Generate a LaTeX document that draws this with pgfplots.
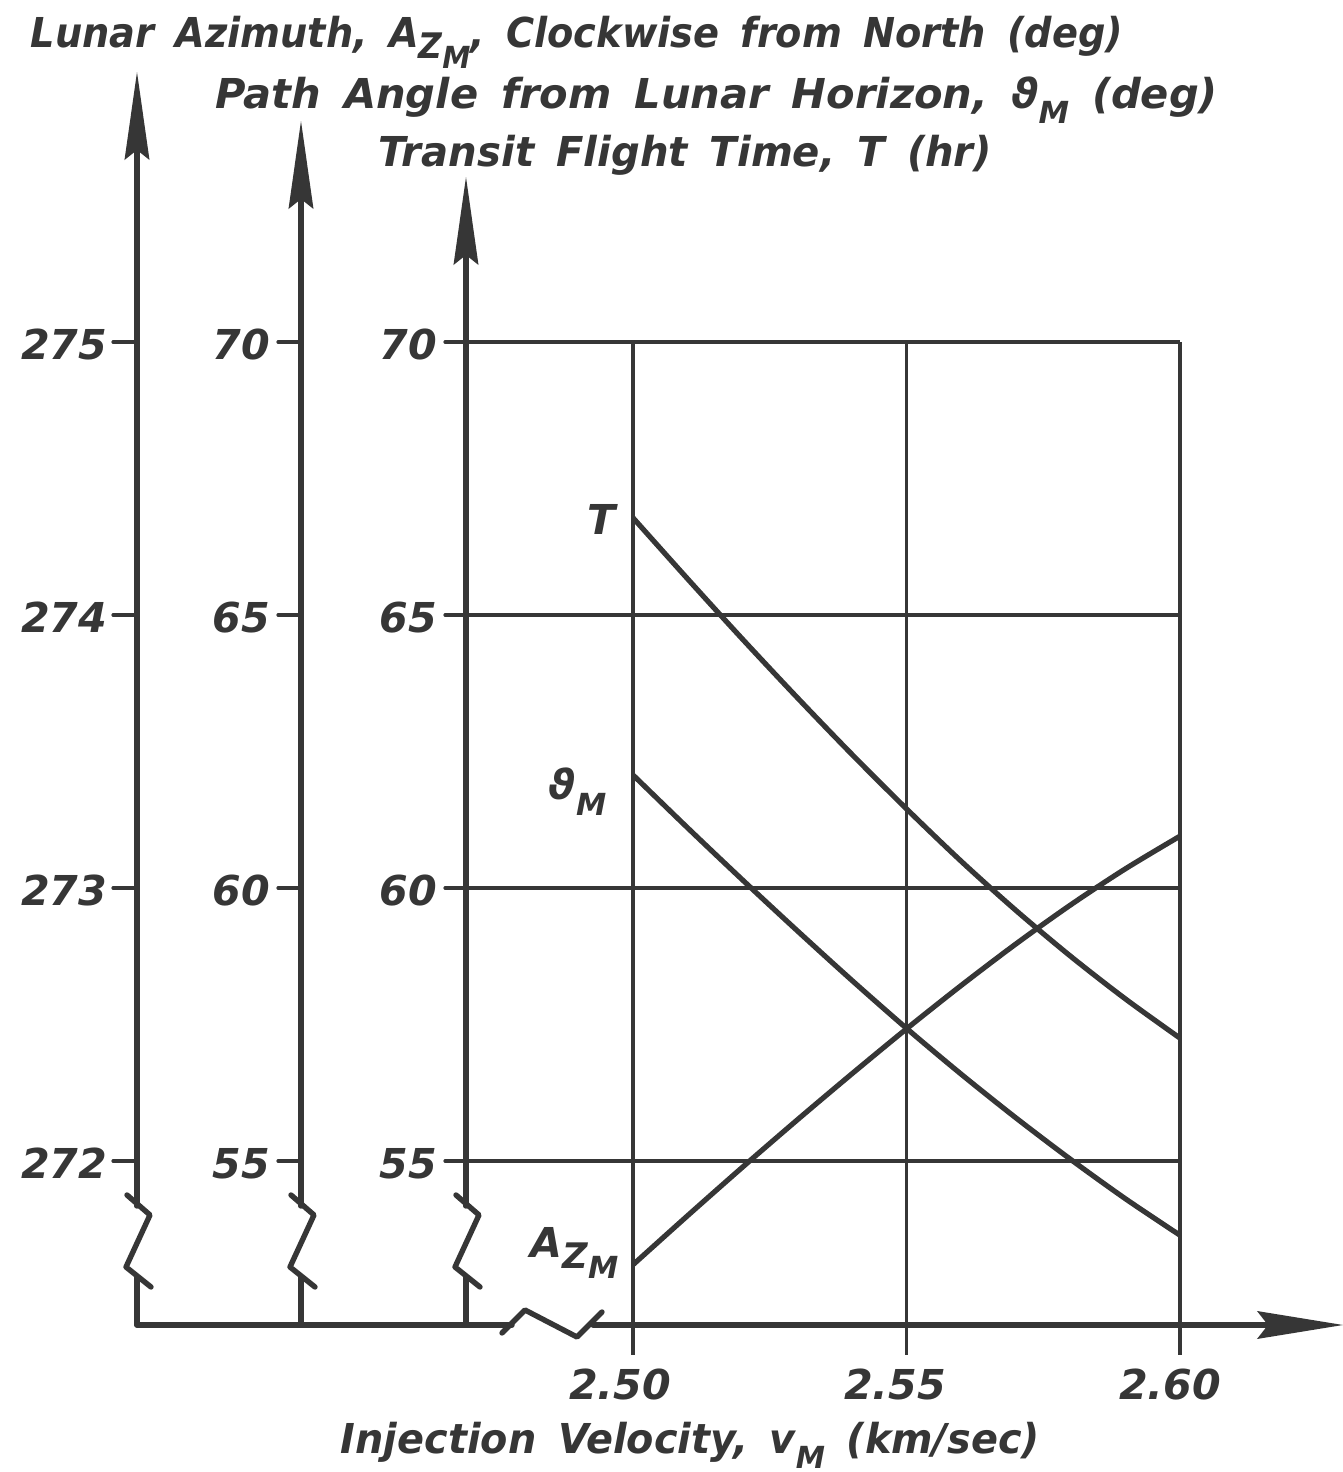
\documentclass[border=0pt]{standalone}
\usepackage{pgfplots}
\usepackage{pgfplotstable}
\pgfplotsset{compat=1.18}
\usepackage{fontspec}
\setmainfont{DejaVu Sans}
\definecolor{ink}{HTML}{363636}
\newcommand{\lf}{\fontsize{10.3}{12}\selectfont\bfseries\itshape}
\newcommand{\sub}[1]{\raisebox{-0.38em}{\fontsize{7.6}{8}\selectfont #1}}
\newcommand{\AZM}{A\raisebox{-0.25em}{\fontsize{8.8}{9}\selectfont Z\raisebox{-0.3em}{\fontsize{7.6}{8}\selectfont M}}}
\newcommand{\ws}{\hspace{0.55em}}

% Transit flight time T (hr) and path angle theta_M (deg) vs injection velocity (km/s)
\pgfplotstableread{
v     T      th
2.50  66.78  62.07
2.51  65.66  61.10
2.52  64.56  60.15
2.53  63.49  59.22
2.54  62.45  58.31
2.55  61.45  57.43
2.56  60.49  56.59
2.57  59.59  55.79
2.58  58.75  55.03
2.59  57.97  54.31
2.60  57.25  53.64
}\dataTT

% Lunar azimuth A_ZM (deg)
\pgfplotstableread{
v     Az
2.50  271.620
2.51  271.800
2.52  271.977
2.53  272.150
2.54  272.319
2.55  272.484
2.56  272.643
2.57  272.795
2.58  272.938
2.59  273.070
2.60  273.190
}\dataAz

\begin{document}
\begin{tikzpicture}
\pgfplotsset{geom/.style={at={(0,0)}, anchor=south west, scale only axis,
  width=335.75pt, height=368pt, xmin=2.384278, xmax=2.629799, hide axis, clip=false}}
\begin{axis}[geom, ymin=49.3040, ymax=76.2637]
  % grid
  \foreach \xx in {2.50,2.55,2.60}{
    \edef\tmp{\noexpand\draw[ink, line width=0.8pt] (axis cs:\xx,70) -- (axis cs:\xx,51.45);}\tmp
  }
  \foreach \yy in {55,60,65,70}{
    \edef\tmp{\noexpand\draw[ink, line width=0.8pt] (axis cs:2.46947,\yy) -- (axis cs:2.60,\yy);}\tmp
  }
  \addplot[ink, line width=1.3pt, smooth, no markers] table[x=v, y=T] {\dataTT};
  \addplot[ink, line width=1.3pt, smooth, no markers] table[x=v, y=th] {\dataTT};
\end{axis}
\begin{axis}[geom, ymin=270.8608, ymax=276.2527]
  \addplot[ink, line width=1.3pt, smooth, no markers] table[x=v, y=Az] {\dataAz};
\end{axis}

\begin{scope}[shift={(0,368pt)}, x=0.25pt, y=-0.25pt, line cap=round, line join=round]
  % vertical axes with arrowheads and breaks
  \foreach \X/\tip in {137/72, 301/121, 466/177}{
    \fill[ink] (\X,\tip) -- (\X+12.5,\tip+88) -- (\X,\tip+78) -- (\X-12.5,\tip+88) -- cycle;
    \draw[ink, line width=1.35pt] (\X,\tip+70) -- (\X,1206);
    \draw[ink, line width=1.35pt] (\X-10,1195) -- (\X+13,1215) -- (\X-11,1267) -- (\X+14,1287);
    \draw[ink, line width=1.35pt] (\X,1277) -- (\X,1325);
  }
  % horizontal axis with break and arrow
  \draw[ink, line width=1.35pt] (137,1325) -- (512,1325);
  \draw[ink, line width=1.35pt] (502,1333) -- (525,1310) -- (577,1337) -- (602,1312);
  \draw[ink, line width=1.35pt] (593,1325) -- (1270,1325);
  \fill[ink] (1343,1325) -- (1257,1311) -- (1268,1325) -- (1257,1339) -- cycle;
  % tick marks
  \foreach \Y in {342,615,888,1161}{
    \draw[ink, line width=0.8pt] (113,\Y) -- (137,\Y);
    \draw[ink, line width=0.8pt] (278,\Y) -- (301,\Y);
    \draw[ink, line width=0.8pt] (445,\Y) -- (466,\Y);
  }
  % tick labels
  \foreach \Y/\a/\b in {342/275/70, 615/274/65, 888/273/60, 1161/272/55}{
    \node[anchor=base east, inner sep=0, text=ink] at (108,\Y+17) {\lf \a};
    \node[anchor=base east, inner sep=0, text=ink] at (271,\Y+17) {\lf \b};
    \node[anchor=base east, inner sep=0, text=ink] at (438,\Y+17) {\lf \b};
  }
  \foreach \X/\t in {620/2.50, 895/2.55, 1170/2.60}{
    \node[anchor=base, inner sep=0, text=ink] at (\X,1400) {\lf \t};
  }
  % titles
  \node[anchor=base west, inner sep=0, text=ink] at (30,48)
    {\scalebox{0.93}[1]{\lf Lunar\ws Azimuth,\ws\AZM,\ws Clockwise\ws from\ws North\ws (deg)}};
  \node[anchor=base west, inner sep=0, text=ink] at (215,108)
    {\scalebox{1.01}[1]{\lf Path\ws Angle\ws from\ws Lunar\ws Horizon,\ws ϑ\sub{M}\ws (deg)}};
  \node[anchor=base west, inner sep=0, text=ink] at (378,166)
    {\scalebox{0.975}[1]{\lf Transit\ws Flight\ws Time,\ws T\ws (hr)}};
  \node[anchor=base west, inner sep=0, text=ink] at (340,1453)
    {\scalebox{0.965}[1]{\lf Injection\ws Velocity,\ws v\sub{M}\ws (km/sec)}};
  % curve labels
  \node[anchor=base east, inner sep=0, text=ink] at (616,535) {\lf T};
  \node[anchor=base west, inner sep=0, text=ink] at (548,800) {\lf ϑ\sub{M}};
  \node[anchor=base west, inner sep=0, text=ink] at (530,1258) {\lf \AZM};
\end{scope}
\pgfresetboundingbox
\path (0,0) rectangle (335.75pt,368pt);
\end{tikzpicture}
\end{document}
